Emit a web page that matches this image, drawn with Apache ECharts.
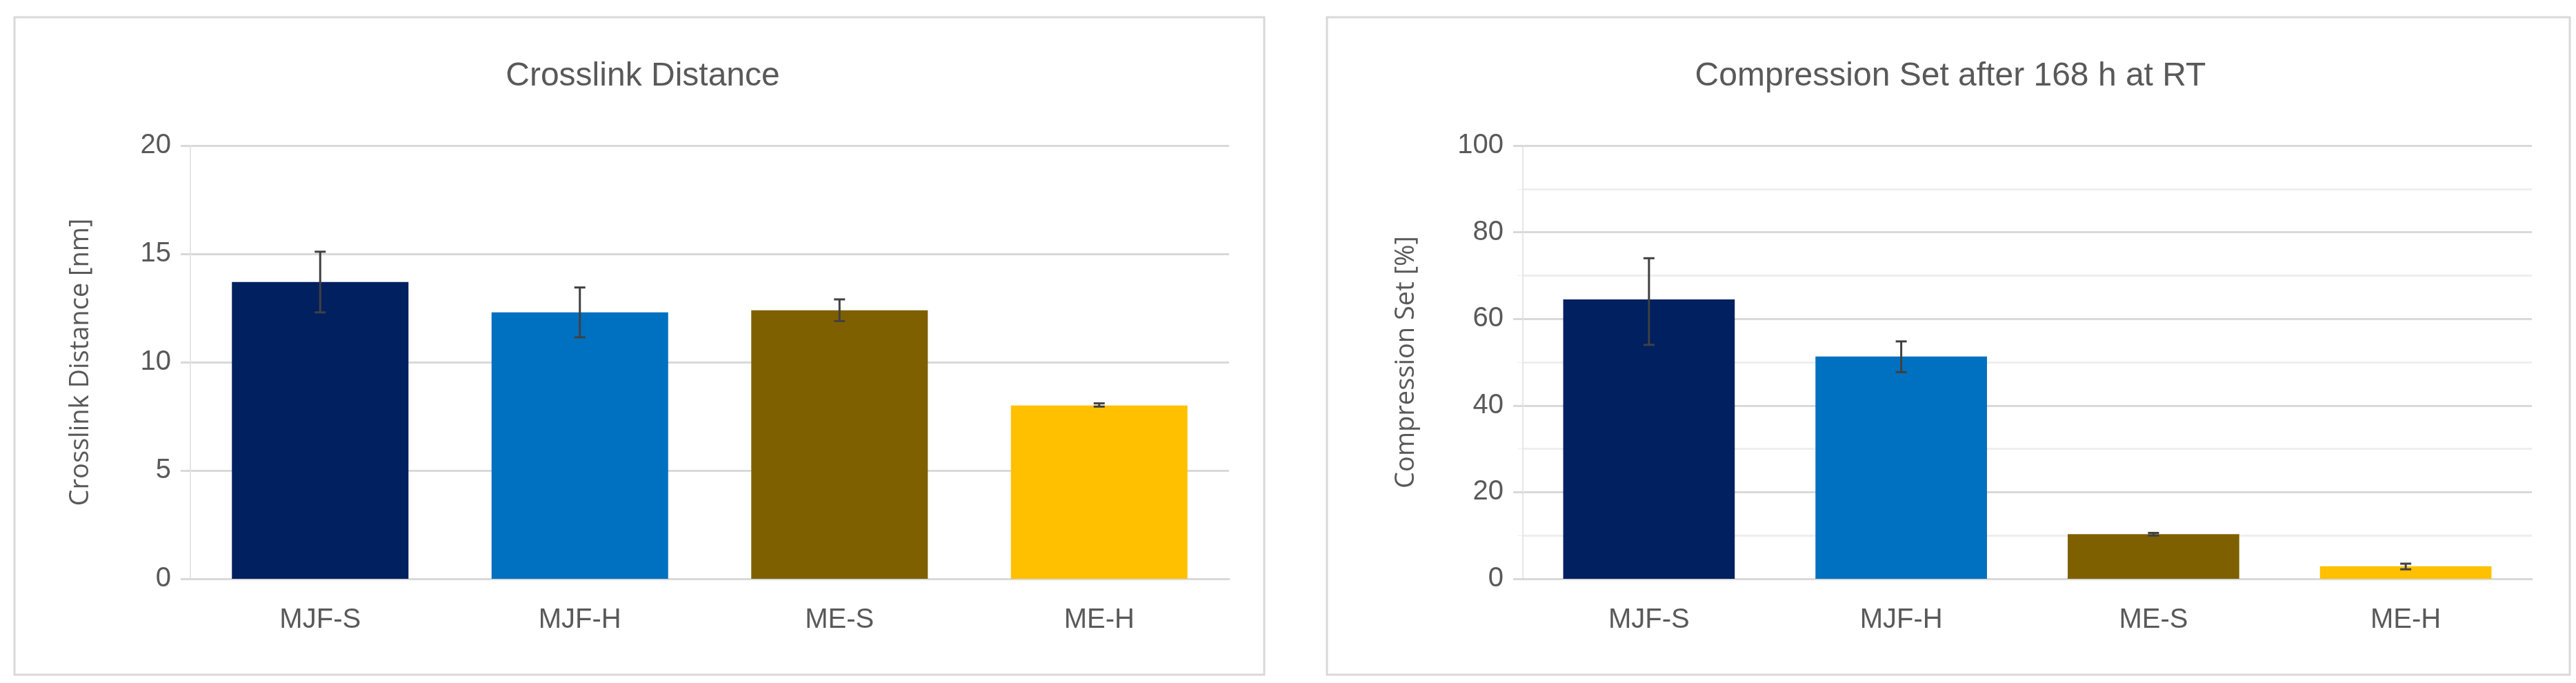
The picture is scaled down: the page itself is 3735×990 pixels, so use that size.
<!DOCTYPE html>
<html><head><meta charset="utf-8">
<script src="https://cdn.jsdelivr.net/npm/echarts@6/dist/echarts.min.js"></script>
<style>html,body{margin:0;background:#fff}#c{width:3735px;height:990px}</style>
</head><body><div id="c"></div>
<script>
const categories = ['MJF-S', 'MJF-H', 'ME-S', 'ME-H'];
const colors = ['#002060', '#0070C0', '#7F6000', '#FFC000'];
const crosslink = [13.7, 12.3, 12.4, 8.0];
const crosslinkLow = [12.3, 11.15, 11.9, 7.95];
const crosslinkHigh = [15.1, 13.45, 12.9, 8.1];
const compSet = [64.5, 51.3, 10.3, 2.9];
const compSetLow = [54.0, 47.7, 10.0, 2.2];
const compSetHigh = [74.0, 54.8, 10.6, 3.5];

const txt = '#595959';
const font = '"Liberation Sans Narrow", "Liberation Sans", sans-serif';

function errSeries(idx, low, high) {
  return {
    type: 'custom', xAxisIndex: idx, yAxisIndex: idx, z: 5,
    data: low.map((l, i) => [i, l, high[i]]),
    renderItem: function (params, api) {
      const lo = api.coord([api.value(0), api.value(1)]);
      const hi = api.coord([api.value(0), api.value(2)]);
      const w = 8;
      const st = { stroke: '#404040', lineWidth: 3 };
      return { type: 'group', children: [
        { type: 'line', shape: { x1: lo[0], y1: lo[1], x2: hi[0], y2: hi[1] }, style: st },
        { type: 'line', shape: { x1: lo[0] - w, y1: lo[1], x2: lo[0] + w, y2: lo[1] }, style: st },
        { type: 'line', shape: { x1: hi[0] - w, y1: hi[1], x2: hi[0] + w, y2: hi[1] }, style: st }
      ]};
    }
  };
}

function xAx(idx) {
  return {
    type: 'category', gridIndex: idx, data: categories,
    axisLine: { lineStyle: { color: '#d9d9d9', width: 3 } },
    axisTick: { show: false },
    axisLabel: { color: txt, fontSize: 40, fontFamily: font, margin: 40 }
  };
}
function yAx(idx, max, interval, name, minor) {
  return {
    type: 'value', gridIndex: idx, min: 0, max: max, interval: interval,
    name: name, nameLocation: 'middle', nameGap: idx === 0 ? 140 : 150,
    nameTextStyle: { color: txt, fontSize: 38, fontFamily: '"Open Sans", sans-serif' },
    axisLine: { show: true, lineStyle: { color: '#e6e6e6', width: 2 } },
    axisTick: { show: true, length: 14, lineStyle: { color: '#d9d9d9', width: 3 } },
    axisLabel: { color: txt, fontSize: 40, fontFamily: font, margin: 28 },
    splitLine: { lineStyle: { color: '#d9d9d9', width: 3 } },
    minorTick: { show: minor, splitNumber: 2, length: 8, lineStyle: { color: '#eeeeee' } },
    minorSplitLine: { show: minor, lineStyle: { color: '#eeeeee', width: 3 } }
  };
}
function bars(idx, vals) {
  return {
    type: 'bar', xAxisIndex: idx, yAxisIndex: idx, barCategoryGap: '32%',
    data: vals.map((v, i) => ({ value: v, itemStyle: { color: colors[i] } }))
  };
}

const chart = echarts.init(document.getElementById('c'));
chart.setOption({
  animation: false,
  title: [
    { text: 'Crosslink Distance', left: 927, top: 82, textAlign: 'center',
      textStyle: { color: txt, fontSize: 48, fontWeight: 'normal', fontFamily: font } },
    { text: 'Compression Set after 168 h at RT', left: 2823, top: 82, textAlign: 'center',
      textStyle: { color: txt, fontSize: 48, fontWeight: 'normal', fontFamily: font } }
  ],
  graphic: [
    { type: 'rect', shape: { x: 21, y: 25, width: 1812, height: 953 }, style: { fill: 'none', stroke: '#d9d9d9', lineWidth: 3 } },
    { type: 'rect', shape: { x: 1924, y: 25, width: 1802, height: 953 }, style: { fill: 'none', stroke: '#d9d9d9', lineWidth: 3 } }
  ],
  grid: [
    { left: 276, top: 211, width: 1506, height: 628 },
    { left: 2208, top: 211, width: 1463, height: 628 }
  ],
  xAxis: [xAx(0), xAx(1)],
  yAxis: [yAx(0, 20, 5, 'Crosslink Distance [nm]', false), yAx(1, 100, 20, 'Compression Set [%]', true)],
  series: [
    bars(0, crosslink), errSeries(0, crosslinkLow, crosslinkHigh),
    bars(1, compSet), errSeries(1, compSetLow, compSetHigh)
  ]
});
</script>
</body></html>
